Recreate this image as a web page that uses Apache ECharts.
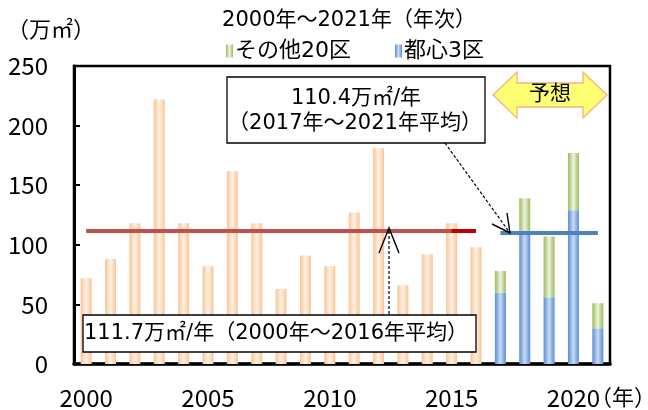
<!DOCTYPE html>
<html>
<head>
<meta charset="utf-8">
<script src="https://cdn.jsdelivr.net/npm/echarts@6/dist/echarts.min.js"></script>
<style>
  html, body { margin: 0; padding: 0; background: #fff; }
  #chart { width: 648px; height: 410px; }
</style>
</head>
<body>
<div id="chart"></div>
<script>
// Office floor supply in Tokyo's 23 wards (万㎡ per year)
const years = ['2000','2001','2002','2003','2004','2005','2006','2007','2008','2009','2010',
               '2011','2012','2013','2014','2015','2016','2017','2018','2019','2020','2021'];
// Actual supply, 2000-2016 (total of all wards)
const pastSupply = [72, 88, 118, 222, 118, 82, 162, 118, 63, 91, 82, 127, 181, 66, 92, 118, 98,
                    null, null, null, null, null];
// Forecast, 2017-2021, split by area
const centralWards = [null, null, null, null, null, null, null, null, null, null, null,
                      null, null, null, null, null, null, 60, 112, 56, 129, 30];
const otherWards   = [null, null, null, null, null, null, null, null, null, null, null,
                      null, null, null, null, null, null, 18, 27, 51, 48, 21];
const pastAverage = 111.7;      // 2000-2016 average
const forecastAverage = 110.4;  // 2017-2021 average
const yTicks = { min: 0, max: 250, interval: 50 };

// Verdana-like Latin glyphs for text, CJK falls back to Noto Sans CJK JP
const FONT = "'DejaVu Sans', 'Noto Sans CJK JP', sans-serif";
const AXIS_FONT = "'Noto Sans CJK JP', sans-serif";

function hGrad(edge, mid) {
  return new echarts.graphic.LinearGradient(0, 0, 1, 0, [
    { offset: 0, color: edge },
    { offset: 0.5, color: mid },
    { offset: 1, color: edge }
  ]);
}

const chart = echarts.init(document.getElementById('chart'), null, { renderer: 'canvas' });

const arrowStyle = { stroke: '#000', lineWidth: 1.4, fill: null };
const dashStyle = { stroke: '#000', lineWidth: 1.2, lineDash: [3, 2], fill: null };

chart.setOption({
  animation: false,
  backgroundColor: '#fff',
  textStyle: { fontFamily: FONT },
  grid: {
    left: 74, top: 66, width: 536, height: 298,
    show: true, borderColor: '#000', borderWidth: 2.5, backgroundColor: 'transparent'
  },
  legend: {
    left: 221, top: 35,
    itemWidth: 7, itemHeight: 13, itemGap: 44,
    icon: 'rect',
    textStyle: { fontFamily: FONT, fontSize: 22, color: '#000', padding: [0, 0, 0, -3] },
    data: ['その他20区', '都心3区']
  },
  xAxis: [
    {
      type: 'category',
      data: years,
      axisLine: { lineStyle: { color: '#000', width: 3.5 } },
      axisTick: { show: false },
      axisLabel: {
        interval: 4,
        color: '#000', fontFamily: AXIS_FONT, fontSize: 24, margin: 22
      }
    }
  ],
  yAxis: {
    type: 'value',
    min: yTicks.min, max: yTicks.max, interval: yTicks.interval,
    splitLine: { show: false },
    axisLine: { show: true, lineStyle: { color: '#000', width: 3 } },
    axisTick: { show: true, inside: true, length: 6, lineStyle: { color: '#000', width: 2 } },
    axisLabel: { color: '#000', fontFamily: AXIS_FONT, fontSize: 24, margin: 26 }
  },
  series: [
    {
      name: '実績',
      type: 'bar',
      data: pastSupply,
      barWidth: 11,
      barGap: '-100%',
      itemStyle: { color: hGrad('#f9c597', '#fff1e4') },
      markLine: {
        silent: true, symbol: 'none', label: { show: false },
        data: [
          [{ coord: ['2000', pastAverage], lineStyle: { color: '#c0504d', width: 4, type: 'solid' } },
           { coord: ['2016', pastAverage] }],
          [{ coord: ['2015', pastAverage], lineStyle: { color: '#c00000', width: 4, type: 'solid' } },
           { coord: ['2016', pastAverage] }]
        ]
      }
    },
    {
      name: '都心3区',
      type: 'bar',
      stack: 'forecast',
      data: centralWards,
      barWidth: 11,
      barGap: '-100%',
      itemStyle: { color: hGrad('#5b8dd3', '#c9dbf2') }
    },
    {
      name: 'その他20区',
      type: 'bar',
      stack: 'forecast',
      data: otherWards,
      barWidth: 11,
      barGap: '-100%',
      itemStyle: { color: hGrad('#9bbb59', '#eef3e2') },
      markLine: {
        silent: true, symbol: 'none', label: { show: false },
        data: [
          [{ coord: ['2017', forecastAverage], lineStyle: { color: '#4f81bd', width: 4, type: 'solid' } },
           { coord: ['2021', forecastAverage] }]
        ]
      }
    }
  ],
  graphic: [
    // chart heading and unit labels
    { type: 'text', x: 349, y: 21, z: 10,
      style: { text: '2000年～2021年（年次）', font: '21px ' + FONT, fill: '#000',
               textAlign: 'center', textVerticalAlign: 'middle' } },
    { type: 'text', x: 7, y: 31, z: 10,
      style: { text: '（万㎡）', font: '22px ' + FONT, fill: '#000', textVerticalAlign: 'middle' } },
    { type: 'text', x: 590, y: 399, z: 10,
      style: { text: '（年）', font: '22px ' + FONT, fill: '#000', textVerticalAlign: 'middle' } },

    // forecast average callout
    { type: 'rect', z: 20, shape: { x: 227, y: 77, width: 258, height: 66 },
      style: { fill: '#fff', stroke: '#000', lineWidth: 1.3 } },
    { type: 'text', x: 356, y: 99, z: 21,
      style: { text: '110.4万㎡/年', font: '21px ' + FONT, fill: '#000',
               textAlign: 'center', textVerticalAlign: 'middle' } },
    { type: 'text', x: 355, y: 124, z: 21,
      style: { text: '（2017年～2021年平均）', font: '21px ' + FONT, fill: '#000',
               textAlign: 'center', textVerticalAlign: 'middle' } },
    { type: 'line', z: 20, shape: { x1: 445, y1: 143, x2: 510, y2: 233 }, style: dashStyle },
    { type: 'polyline', z: 20, shape: { points: [[492, 224], [510, 233], [507, 213]] }, style: arrowStyle },

    // past average callout
    { type: 'rect', z: 20, shape: { x: 83, y: 315, width: 393, height: 37 },
      style: { fill: '#fff', stroke: '#000', lineWidth: 1.3 } },
    { type: 'text', x: 84, y: 334, z: 21,
      style: { text: '111.7万㎡/年（2000年～2016年平均）', font: '21px ' + FONT, fill: '#000',
               textVerticalAlign: 'middle' } },
    { type: 'line', z: 20, shape: { x1: 389, y1: 314, x2: 389, y2: 230 }, style: dashStyle },
    { type: 'polyline', z: 22, shape: { points: [[379, 253], [389, 228], [399, 253]] }, style: arrowStyle },

    // forecast period marker
    { type: 'polygon', z: 20,
      shape: { points: [[493, 95], [517, 72], [517, 83], [583, 83], [583, 72], [607, 95],
                        [583, 118], [583, 107], [517, 107], [517, 118]] },
      style: { fill: '#ffff73', stroke: '#f7b27f', lineWidth: 1.3 } },
    { type: 'text', x: 550, y: 95, z: 21,
      style: { text: '予想', font: '21px ' + FONT, fill: '#000',
               textAlign: 'center', textVerticalAlign: 'middle' } }
  ]
});
</script>
</body>
</html>
